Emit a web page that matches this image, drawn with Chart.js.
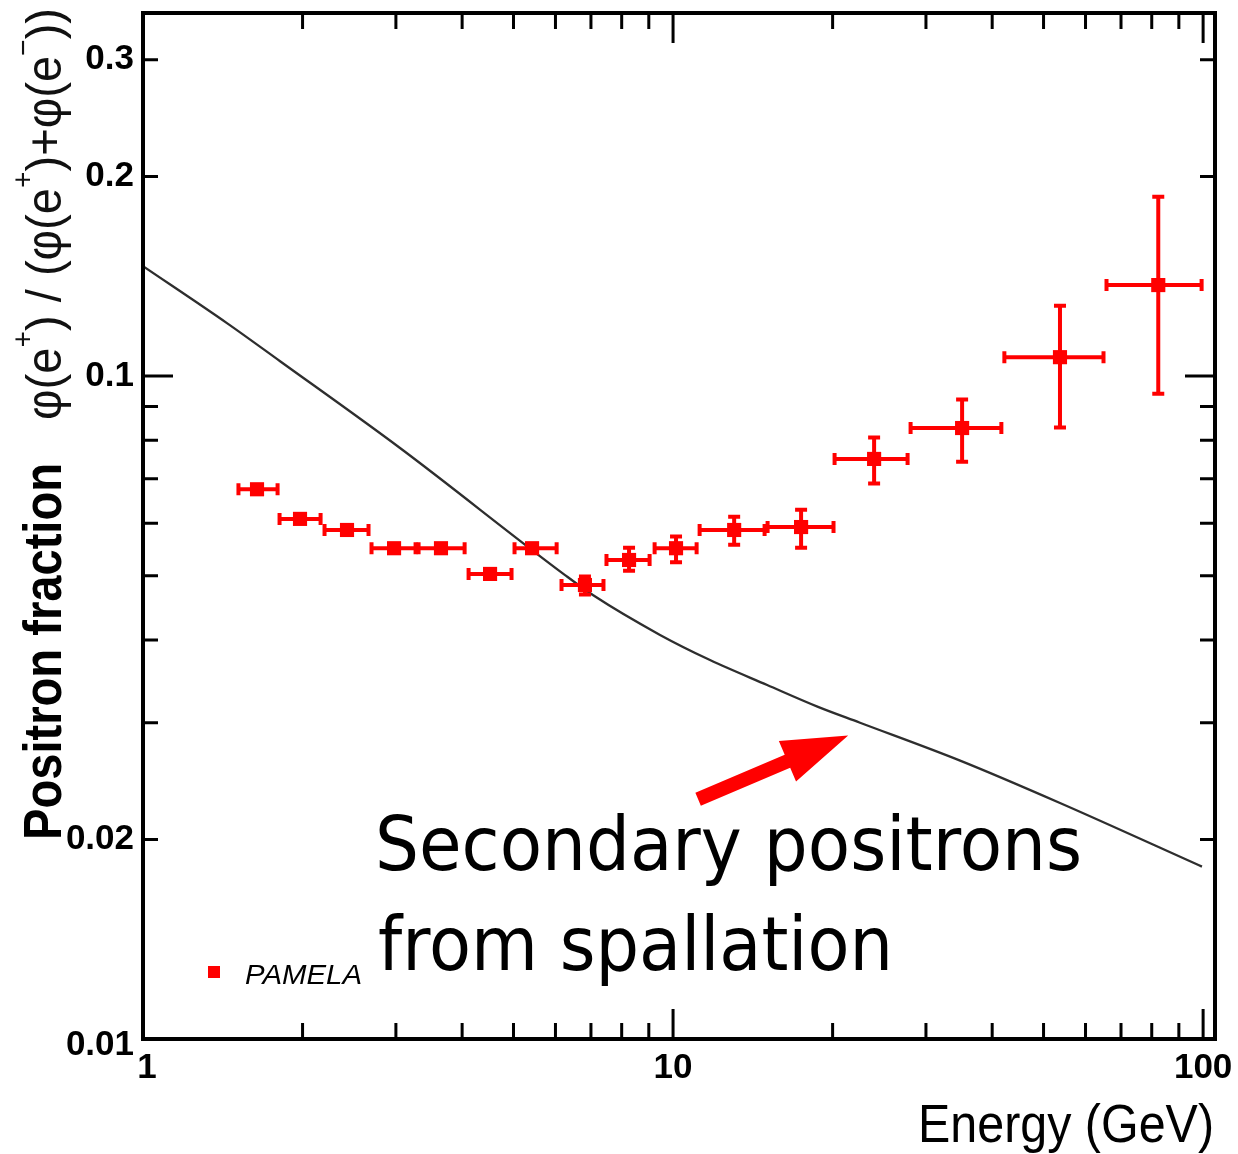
<!DOCTYPE html>
<html>
<head>
<meta charset="utf-8">
<script src="https://cdn.jsdelivr.net/npm/chart.js@4.4.0/dist/chart.umd.min.js"></script>
<style>
  html, body { margin: 0; padding: 0; background: #fff; }
  canvas { display: block; }
</style>
</head>
<body>
<canvas id="chart" width="1238" height="1154"></canvas>
<script>
// PAMELA positron fraction data
const energy      = [1.641, 1.978, 2.426, 2.976, 3.649, 4.516, 5.42, 6.82, 8.26, 10.13, 13.04, 17.44, 23.95, 35.1, 53.7, 82.3];
const energyLow   = [1.504, 1.798, 2.186, 2.681, 3.289, 4.087, 4.99, 6.12, 7.44, 9.17, 11.15, 14.98, 20.04, 27.88, 41.9, 65.3];
const energyHigh  = [1.806, 2.177, 2.681, 3.289, 4.07, 4.99, 6.07, 7.44, 9.09, 11.15, 14.98, 20.21, 27.88, 41.9, 65.3, 100];
const fraction    = [0.0675, 0.0609, 0.0586, 0.0550, 0.0550, 0.0503, 0.0550, 0.0484, 0.0528, 0.0550, 0.0586, 0.0592, 0.0750, 0.0835, 0.1068, 0.1372];
const fractionLow = [0.0675, 0.0609, 0.0586, 0.0550, 0.0550, 0.0503, 0.0550, 0.0466, 0.0506, 0.0521, 0.0554, 0.0548, 0.0685, 0.0739, 0.0832, 0.0936];
const fractionHigh= [0.0675, 0.0609, 0.0586, 0.0550, 0.0550, 0.0503, 0.0550, 0.0501, 0.0554, 0.0576, 0.0617, 0.0632, 0.0812, 0.0927, 0.1284, 0.1875];

// secondary positron curve
const curveEnergy   = [1, 1.44, 1.814, 3.054, 6.255, 7.07, 9.45, 11.74, 15.05, 18.77, 22.53, 34.8, 53.7, 99.5];
const curveFraction = [0.1465, 0.1202, 0.1053, 0.0779, 0.0501, 0.0467, 0.0407, 0.0373, 0.0342, 0.0317, 0.0300, 0.0263, 0.0227, 0.0182];

// axis ticks
const xMajor = [1, 10, 100];
const xMinor = [2, 3, 4, 5, 6, 7, 8, 9, 20, 30, 40, 50, 60, 70, 80, 90];
const xLabels = ['1', '10', '100'];
const yMajor = [0.01, 0.1];
const yMinor = [0.02, 0.03, 0.04, 0.05, 0.06, 0.07, 0.08, 0.09, 0.2, 0.3];
const yLabelValues = [0.01, 0.02, 0.1, 0.2, 0.3];
const yLabels = ['0.01', '0.02', '0.1', '0.2', '0.3'];

// arrow annotation (data coordinates: from -> to)
const arrowFrom = [11.15, 0.0230];
const arrowTo   = [21.4, 0.0287];

const RED = '#ff0000';
const FONT = "'Liberation Sans', Arial, sans-serif";

function fitText(ctx, text, x, y, width, font, align) {
  ctx.font = font;
  const w = ctx.measureText(text).width;
  const s = width / w;
  ctx.save();
  ctx.translate(x, y);
  ctx.scale(s, 1);
  ctx.textAlign = 'left';
  const x0 = align === 'right' ? -w : align === 'center' ? -w / 2 : 0;
  ctx.fillText(text, x0, 0);
  ctx.restore();
}

// runs of [text, isSuperscript], squeezed to a width
function drawRuns(ctx, runs, width, size, supSize, supRaise) {
  let total = 0;
  runs.forEach(([t, sup]) => {
    ctx.font = (sup ? supSize : size) + 'px ' + FONT;
    total += ctx.measureText(t).width;
  });
  const s = width / total;
  ctx.save();
  ctx.scale(s, 1);
  let x = 0;
  ctx.textAlign = 'left';
  runs.forEach(([t, sup]) => {
    ctx.font = (sup ? supSize : size) + 'px ' + FONT;
    ctx.fillText(t, x, sup ? -supRaise : 0);
    x += ctx.measureText(t).width;
  });
  ctx.restore();
}

const errorBars = {
  id: 'errorBars',
  beforeDatasetDraw(chart, args) {
    if (args.index !== 0) return;
    const { ctx, chartArea, scales: { x, y } } = chart;
    const cap = 6;
    ctx.save();
    ctx.beginPath();
    ctx.rect(chartArea.left, chartArea.top, chartArea.right - chartArea.left, chartArea.bottom - chartArea.top);
    ctx.clip();
    ctx.strokeStyle = RED;
    ctx.lineWidth = 4;
    energy.forEach((e, i) => {
      const px = x.getPixelForValue(e);
      const py = y.getPixelForValue(fraction[i]);
      const xl = x.getPixelForValue(energyLow[i]);
      const xh = x.getPixelForValue(energyHigh[i]);
      ctx.beginPath();
      ctx.moveTo(xl, py); ctx.lineTo(xh, py);
      ctx.moveTo(xl + 1.5, py - cap); ctx.lineTo(xl + 1.5, py + cap);
      ctx.moveTo(xh - 1.5, py - cap); ctx.lineTo(xh - 1.5, py + cap);
      ctx.stroke();
      if (fractionLow[i] !== fractionHigh[i]) {
        const yl = y.getPixelForValue(fractionLow[i]);
        const yh = y.getPixelForValue(fractionHigh[i]);
        ctx.beginPath();
        ctx.moveTo(px, yl); ctx.lineTo(px, yh);
        ctx.moveTo(px - cap, yl - 1.5); ctx.lineTo(px + cap, yl - 1.5);
        ctx.moveTo(px - cap, yh + 1.5); ctx.lineTo(px + cap, yh + 1.5);
        ctx.stroke();
      }
    });
    ctx.restore();
  }
};

const decorations = {
  id: 'decorations',
  afterDraw(chart) {
    const { ctx, chartArea: ca, scales: { x, y } } = chart;
    ctx.save();

    // frame
    ctx.strokeStyle = '#000';
    ctx.lineWidth = 4;
    ctx.strokeRect(ca.left, ca.top, ca.right - ca.left, ca.bottom - ca.top);

    // inward ticks
    ctx.lineWidth = 3;
    ctx.beginPath();
    const xt = (v, len) => {
      const p = x.getPixelForValue(v);
      ctx.moveTo(p, ca.bottom); ctx.lineTo(p, ca.bottom - len);
      ctx.moveTo(p, ca.top); ctx.lineTo(p, ca.top + len);
    };
    const yt = (v, len) => {
      const p = y.getPixelForValue(v);
      ctx.moveTo(ca.left, p); ctx.lineTo(ca.left + len, p);
      ctx.moveTo(ca.right, p); ctx.lineTo(ca.right - len, p);
    };
    xMajor.forEach(v => xt(v, 30));
    xMinor.forEach(v => xt(v, 16));
    yMajor.forEach(v => yt(v, 30));
    yMinor.forEach(v => yt(v, 15));
    ctx.stroke();

    // tick labels
    ctx.fillStyle = '#000';
    ctx.font = 'bold 35px ' + FONT;
    ctx.textBaseline = 'middle';
    ctx.textAlign = 'right';
    yLabelValues.forEach((v, i) => {
      const dy = v === 0.01 ? 6 : 0;
      ctx.fillText(yLabels[i], 134, y.getPixelForValue(v) + dy);
    });
    ctx.textAlign = 'center';
    xMajor.forEach((v, i) => {
      ctx.fillText(xLabels[i], x.getPixelForValue(v) + (i === 0 ? 4 : 0), 1068);
    });

    // axis titles
    ctx.textBaseline = 'alphabetic';
    fitText(ctx, 'Energy (GeV)', 1214, 1142, 296, '54px ' + FONT, 'right');

    ctx.save();
    ctx.translate(61, 840);
    ctx.rotate(-Math.PI / 2);
    fitText(ctx, 'Positron fraction', 0, 0, 377, 'bold 54px ' + FONT, 'left');
    ctx.translate(420, 0);
    ctx.fillStyle = '#111';
    drawRuns(ctx, [
      ['\u03c6(e', false], ['+', true], [') / (\u03c6(e', false], ['+', true],
      [')+\u03c6(e', false], ['\u2212', true], ['))', false]
    ], 412, 50, 30, 28);
    ctx.restore();

    // legend
    ctx.fillStyle = RED;
    ctx.fillRect(208, 966, 12, 12);
    ctx.fillStyle = '#000';
    fitText(ctx, 'PAMELA', 245, 984, 117, 'italic 28px ' + FONT, 'left');

    // arrow
    const tx = x.getPixelForValue(arrowFrom[0]), ty = y.getPixelForValue(arrowFrom[1]);
    const hx = x.getPixelForValue(arrowTo[0]), hy = y.getPixelForValue(arrowTo[1]);
    const L = Math.hypot(hx - tx, hy - ty);
    const ux = (hx - tx) / L, uy = (hy - ty) / L;
    const nx = -uy, ny = ux;
    const headLen = 66, headW = 22, shaftW = 7;
    const bx = hx - ux * headLen, by = hy - uy * headLen;
    ctx.fillStyle = RED;
    ctx.beginPath();
    ctx.moveTo(tx + nx * shaftW, ty + ny * shaftW);
    ctx.lineTo(bx + nx * shaftW, by + ny * shaftW);
    ctx.lineTo(bx + nx * headW, by + ny * headW);
    ctx.lineTo(hx, hy);
    ctx.lineTo(bx - nx * headW, by - ny * headW);
    ctx.lineTo(bx - nx * shaftW, by - ny * shaftW);
    ctx.lineTo(tx - nx * shaftW, ty - ny * shaftW);
    ctx.closePath();
    ctx.fill();

    // annotation text
    ctx.fillStyle = '#000';
    const hand = "75px 'Comic Sans MS', 'DejaVu Sans', sans-serif";
    fitText(ctx, 'Secondary positrons', 375, 870, 707, hand, 'left');
    fitText(ctx, 'from spallation', 378, 970, 515, hand, 'left');

    ctx.restore();
  }
};

new Chart(document.getElementById('chart'), {
  type: 'scatter',
  data: {
    datasets: [
      {
        label: 'PAMELA',
        data: energy.map((e, i) => ({ x: e, y: fraction[i] })),
        pointStyle: 'rect',
        pointRadius: 10,
        backgroundColor: RED,
        borderColor: RED,
        borderWidth: 0
      },
      {
        label: 'Secondary positrons',
        data: curveEnergy.map((e, i) => ({ x: e, y: curveFraction[i] })),
        showLine: true,
        pointRadius: 0,
        borderColor: '#2e2e2e',
        borderWidth: 2.3,
        cubicInterpolationMode: 'monotone'
      }
    ]
  },
  options: {
    responsive: false,
    animation: false,
    devicePixelRatio: 1,
    layout: { padding: { left: 143, right: 23, top: 13, bottom: 115 } },
    plugins: { legend: { display: false }, tooltip: { enabled: false } },
    scales: {
      x: { type: 'logarithmic', min: 1, max: 105.3, display: false },
      y: { type: 'logarithmic', min: 0.01, max: 0.353, display: false }
    }
  },
  plugins: [errorBars, decorations]
});
</script>
</body>
</html>
